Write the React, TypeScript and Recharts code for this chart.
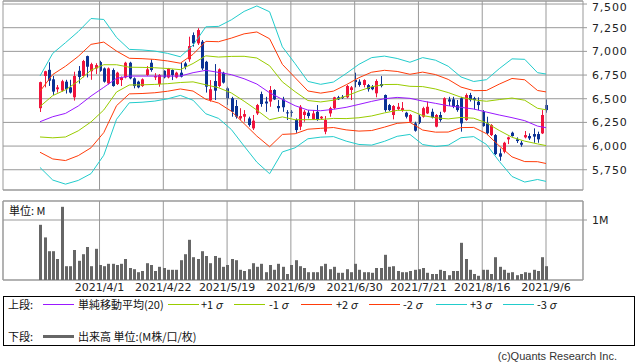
import {
  ComposedChart,
  Bar,
  Line,
  XAxis,
  YAxis,
  CartesianGrid,
  ReferenceLine,
  ReferenceArea,
} from 'recharts';

// daily candles, 2021/3/12 .. 2021/9/6 (index 0..119)
const openPrices = [
  6400, 6740, 6805, 6705, 6600, 6585, 6680, 6620, 6515, 6795, 6740, 6950, 6790, 6820, 6887, 6820, 6662, 6803, 6655, 6697,
  6725, 6880, 6715, 6680, 6634, 6750, 6880, 6725, 6655, 6795, 6725, 6803, 6725, 6775, 6873, 6916, 7172, 7085, 7102, 6890,
  6486, 6687, 6634, 6775, 6610, 6505, 6423, 6292, 6310, 6292, 6187, 6345, 6549, 6470, 6470, 6592, 6423, 6493, 6356, 6362,
  6275, 6205, 6328, 6352, 6282, 6362, 6292, 6152, 6345, 6400, 6515, 6520, 6515, 6592, 6697, 6680, 6645, 6644, 6627, 6557,
  6655, 6539, 6433, 6328, 6390, 6380, 6352, 6257, 6240, 6310, 6310, 6345, 6362, 6205, 6328, 6362, 6493, 6493, 6433, 6505,
  6275, 6539, 6505, 6468, 6362, 6240, 6116, 6116, 5923, 5940, 6071, 6141, 6071, 6035, 6092, 6106, 6127, 6127, 6134, 6433,
];
const highPrices = [
  6680, 6795, 6885, 6740, 6645, 6700, 6700, 6700, 6785, 6845, 6910, 6955, 6880, 6875, 6900, 6830, 6830, 6820, 6785, 6735,
  6890, 6890, 6725, 6690, 6715, 6845, 6915, 6770, 6760, 6800, 6825, 6810, 6785, 6880, 6890, 7155, 7200, 7245, 7120, 6900,
  6697, 6866, 6820, 6785, 6627, 6520, 6486, 6400, 6380, 6310, 6328, 6445, 6575, 6520, 6634, 6600, 6486, 6520, 6380, 6380,
  6292, 6433, 6380, 6380, 6380, 6433, 6317, 6317, 6415, 6520, 6530, 6539, 6645, 6634, 6775, 6705, 6705, 6655, 6644, 6705,
  6739, 6545, 6445, 6433, 6455, 6465, 6362, 6338, 6257, 6328, 6415, 6470, 6395, 6338, 6362, 6515, 6520, 6520, 6486, 6520,
  6556, 6562, 6520, 6515, 6380, 6310, 6232, 6127, 5975, 6045, 6100, 6152, 6092, 6056, 6159, 6134, 6187, 6152, 6380, 6493,
];
const lowPrices = [
  6360, 6620, 6635, 6540, 6565, 6575, 6555, 6555, 6480, 6660, 6725, 6725, 6700, 6760, 6785, 6670, 6650, 6627, 6645, 6634,
  6715, 6705, 6610, 6610, 6625, 6740, 6785, 6697, 6627, 6715, 6715, 6697, 6715, 6725, 6810, 6890, 7050, 7067, 6803, 6565,
  6470, 6486, 6620, 6660, 6433, 6310, 6290, 6275, 6257, 6205, 6170, 6328, 6415, 6362, 6415, 6486, 6362, 6362, 6275, 6310,
  6140, 6169, 6257, 6292, 6275, 6267, 6285, 6125, 6310, 6390, 6486, 6497, 6505, 6486, 6620, 6627, 6620, 6575, 6590, 6515,
  6620, 6362, 6370, 6282, 6380, 6362, 6292, 6247, 6152, 6232, 6300, 6338, 6292, 6198, 6257, 6352, 6423, 6400, 6362, 6152,
  6267, 6470, 6387, 6380, 6205, 6116, 6106, 5905, 5845, 5923, 6021, 6100, 6032, 5993, 6081, 6064, 6035, 6035, 6127, 6352,
];
const closePrices = [
  6675, 6790, 6690, 6575, 6620, 6685, 6600, 6565, 6740, 6730, 6898, 6838, 6865, 6855, 6795, 6680, 6820, 6634, 6775, 6725,
  6880, 6715, 6634, 6620, 6705, 6810, 6803, 6740, 6750, 6725, 6820, 6750, 6775, 6733, 6838, 7056, 7085, 7225, 6820, 6627,
  6600, 6585, 6810, 6670, 6505, 6362, 6310, 6317, 6338, 6222, 6268, 6433, 6444, 6450, 6592, 6493, 6400, 6410, 6349, 6356,
  6169, 6415, 6362, 6317, 6345, 6275, 6310, 6275, 6400, 6515, 6493, 6507, 6634, 6620, 6676, 6645, 6697, 6600, 6600, 6687,
  6634, 6380, 6380, 6423, 6415, 6400, 6310, 6328, 6162, 6247, 6400, 6415, 6303, 6328, 6275, 6505, 6470, 6415, 6380, 6240,
  6539, 6486, 6486, 6433, 6211, 6135, 6222, 5916, 5888, 6035, 6092, 6106, 6053, 6014, 6116, 6081, 6100, 6071, 6328, 6380,
];
// volume, in millions
const volumes = [
  0.92, 0.71, 0.48, 0.48, 0.35, 1.22, 0.23, 0.23, 0.5, 0.32, 0.43, 0.55, 0.23, 0.52, 0.25, 0.23, 0.27, 0.27, 0.25, 0.27,
  0.35, 0.2, 0.18, 0.13, 0.15, 0.28, 0.25, 0.15, 0.22, 0.2, 0.17, 0.17, 0.17, 0.33, 0.43, 0.67, 0.38, 0.35, 0.48, 0.4,
  0.28, 0.4, 0.37, 0.22, 0.25, 0.35, 0.33, 0.17, 0.15, 0.18, 0.28, 0.22, 0.27, 0.13, 0.25, 0.17, 0.27, 0.22, 0.1, 0.25,
  0.33, 0.23, 0.2, 0.13, 0.13, 0.13, 0.23, 0.27, 0.18, 0.22, 0.12, 0.12, 0.18, 0.13, 0.27, 0.17, 0.13, 0.13, 0.12, 0.2,
  0.2, 0.42, 0.22, 0.23, 0.15, 0.13, 0.13, 0.15, 0.17, 0.18, 0.2, 0.12, 0.1, 0.1, 0.17, 0.15, 0.08, 0.15, 0.15, 0.62,
  0.35, 0.17, 0.1, 0.07, 0.17, 0.17, 0.1, 0.38, 0.22, 0.17, 0.12, 0.13, 0.08, 0.1, 0.13, 0.12, 0.17, 0.15, 0.38, 0.23,
];

// Bollinger band readings: 20-day SMA and sigma at these candle indexes
const bandIndex = [
  0, 3, 6, 9, 12, 15, 18, 21, 24, 27, 30, 33, 36, 39, 42, 45, 48, 51, 54, 57, 60, 63, 66, 69, 72, 75, 78, 81, 84, 87,
  90, 93, 96, 99, 102, 105, 108, 111, 114, 117, 119,
];
const smaValues = [
  6257, 6310, 6345, 6423, 6528, 6620, 6715, 6739, 6739, 6739, 6739, 6739, 6775, 6800, 6778, 6754, 6711, 6655, 6563, 6493,
  6426, 6380, 6373, 6388, 6409, 6440, 6472, 6500, 6514, 6504, 6475, 6451, 6426, 6409, 6391, 6359, 6328, 6300, 6268, 6211,
  6194,
];
const sigmaValues = [
  161, 223, 249, 262, 273, 239, 144, 94, 92, 88, 80, 68, 97, 153, 162, 193, 237, 275, 285, 185, 148, 101, 93, 96, 119,
  141, 154, 150, 137, 127, 153, 152, 139, 107, 97, 114, 163, 207, 216, 188, 189,
];

const tickIndex = [14, 29, 44, 59, 74, 89, 104, 119];
const tickLabels = ['2021/4/1', '2021/4/22', '2021/5/19', '2021/6/9', '2021/6/30', '2021/7/21', '2021/8/16', '2021/9/6'];
const priceTicks = [5750, 6000, 6250, 6500, 6750, 7000, 7250, 7500];

const RED = '#f0143c';
const BLUE = '#0a3294';
const SMA_COLOR = '#9a19ff';
const SIG1 = '#99cc00';
const SIG2 = '#ff3c0a';
const SIG3 = '#22cccc';
const GRID = '#999999';
const AXIS_FONT = '"DejaVu Sans", sans-serif';
const JP_FONT = '"Noto Sans CJK JP", sans-serif';

const X_DOMAIN: [number, number] = [-8.7, 127.7];
const PRICE_DOMAIN: [number, number] = [5536, 7532];
const VOL_DOMAIN: [number, number] = [0, 1.317];

interface Row {
  i: number;
  open: number;
  high: number;
  low: number;
  close: number;
  vol: number;
  sma?: number;
  p1?: number;
  m1?: number;
  p2?: number;
  m2?: number;
  p3?: number;
  m3?: number;
}

const rows: Row[] = openPrices.map((open, i) => ({
  i,
  open,
  high: highPrices[i],
  low: lowPrices[i],
  close: closePrices[i],
  vol: volumes[i],
}));

bandIndex.forEach((idx, k) => {
  const m = smaValues[k];
  const s = sigmaValues[k];
  Object.assign(rows[idx], {
    sma: m,
    p1: m + s,
    m1: m - s,
    p2: m + 2 * s,
    m2: m - 2 * s,
    p3: m + 3 * s,
    m3: m - 3 * s,
  });
});

function Candle(props: any) {
  const { x, y, width, height, payload } = props;
  const { open, close, high, low } = payload as Row;
  const color = close >= open ? RED : BLUE;
  const h = Math.abs(height);
  const top = Math.min(y, y + height);
  const ratio = high === low ? 0 : h / (high - low);
  const bodyTop = top + (high - Math.max(open, close)) * ratio;
  const bodyH = Math.max(1, Math.abs(open - close) * ratio);
  const cx = Math.round(x + width / 2);
  return (
    <g>
      <line x1={cx + 0.5} x2={cx + 0.5} y1={top} y2={top + h} stroke={color} strokeWidth={1} />
      <rect x={cx - 1} y={bodyTop} width={3} height={bodyH} fill={color} />
    </g>
  );
}

function VolumeBar(props: any) {
  const { x, y, width, height } = props;
  const cx = Math.round(x + width / 2);
  return <rect x={cx - 1} y={y} width={3} height={Math.abs(height)} fill="#666666" />;
}

// price labels on the right; the top one is nudged so it stays inside the picture
function PriceTick(props: any) {
  const { x, y, payload } = props;
  return (
    <text
      x={x}
      y={Math.max(y, 7)}
      dy="0.355em"
      textAnchor="start"
      fontSize={11}
      fill="#222"
      fontFamily={AXIS_FONT}
      letterSpacing={0.8}
    >
      {Number(payload.value).toLocaleString('en-US')}
    </text>
  );
}

function LegendLine({ left, top, color, thick }: { left: number; top: number; color: string; thick?: boolean }) {
  const h = thick ? 3 : 1;
  return (
    <div
      style={{ position: 'absolute', left, top: top - Math.floor(h / 2), width: 31, height: h, background: color }}
    />
  );
}

function LegendText({ left, top, children }: { left: number; top: number; children: React.ReactNode }) {
  return (
    <div style={{ position: 'absolute', left, top: top - 7, lineHeight: '14px', fontSize: 11, whiteSpace: 'nowrap' }}>
      {children}
    </div>
  );
}

const sigma = (label: string) => (
  <>
    {label}
    <i style={{ marginLeft: 2 }}>σ</i>
  </>
);

const bandLines = [
  { key: 'p3', color: SIG3 },
  { key: 'm3', color: SIG3 },
  { key: 'p2', color: SIG2 },
  { key: 'm2', color: SIG2 },
  { key: 'p1', color: SIG1 },
  { key: 'm1', color: SIG1 },
  { key: 'sma', color: SMA_COLOR },
];

export default function App() {
  return (
    <div
      style={{
        position: 'absolute',
        left: 0,
        top: 0,
        width: 638,
        height: 362,
        background: '#fff',
        fontFamily: JP_FONT,
        color: '#111',
        overflow: 'hidden',
      }}
    >
      {/* price panel */}
      <div style={{ position: 'absolute', left: 0, top: 0 }}>
        <ComposedChart width={638} height={192} data={rows} margin={{ top: 1, right: 0, bottom: 2, left: 3 }}>
          <CartesianGrid vertical={false} stroke={GRID} />
          <XAxis dataKey="i" type="number" domain={X_DOMAIN} allowDataOverflow hide />
          <YAxis
            orientation="right"
            width={55}
            domain={PRICE_DOMAIN}
            allowDataOverflow
            ticks={priceTicks}
            interval={0}
            tick={<PriceTick />}
            tickSize={4}
            tickMargin={5}
            tickLine={{ stroke: GRID }}
            axisLine={false}
          />
          {tickIndex.map((t) => (
            <ReferenceLine key={t} x={t} stroke={GRID} />
          ))}
          <ReferenceArea
            x1={X_DOMAIN[0]}
            x2={X_DOMAIN[1]}
            y1={PRICE_DOMAIN[0]}
            y2={PRICE_DOMAIN[1]}
            fill="none"
            stroke={GRID}
            fillOpacity={0}
          />
          <Bar
            dataKey={(d: Row) => [d.low, d.high]}
            shape={Candle}
            barSize={3}
            isAnimationActive={false}
          />
          {bandLines.map((b) => (
            <Line
              key={b.key}
              dataKey={b.key}
              type="linear"
              stroke={b.color}
              strokeWidth={1}
              dot={false}
              activeDot={false}
              connectNulls
              isAnimationActive={false}
            />
          ))}
        </ComposedChart>
      </div>

      {/* volume panel */}
      <div style={{ position: 'absolute', left: 0, top: 195 }}>
        <ComposedChart width={638} height={100} data={rows} margin={{ top: 6, right: 0, bottom: 0, left: 3 }}>
          <CartesianGrid stroke={GRID} />
          <XAxis
            dataKey="i"
            type="number"
            domain={X_DOMAIN}
            allowDataOverflow
            ticks={tickIndex}
            interval={0}
            tickFormatter={(v) => tickLabels[tickIndex.indexOf(v)] ?? ''}
            tick={{ fontSize: 11, fill: '#222', fontFamily: AXIS_FONT }}
            tickLine={false}
            tickSize={0}
            tickMargin={3}
            axisLine={false}
            height={15}
          />
          <YAxis
            orientation="right"
            width={55}
            domain={VOL_DOMAIN}
            allowDataOverflow
            ticks={[1]}
            tickFormatter={(v) => `${v}M`}
            tick={{ fontSize: 11, fill: '#222', fontFamily: AXIS_FONT }}
            tickSize={4}
            tickMargin={5}
            tickLine={{ stroke: GRID }}
            axisLine={false}
          />
          <ReferenceArea
            x1={X_DOMAIN[0]}
            x2={X_DOMAIN[1]}
            y1={VOL_DOMAIN[0]}
            y2={VOL_DOMAIN[1]}
            fill="none"
            stroke={GRID}
            fillOpacity={0}
          />
          <Bar dataKey="vol" shape={VolumeBar} barSize={3} isAnimationActive={false} />
        </ComposedChart>
      </div>
      <div style={{ position: 'absolute', left: 9, top: 203, fontSize: 11, lineHeight: '14px' }}>単位: M</div>

      {/* legend */}
      <div
        style={{
          position: 'absolute',
          left: 3,
          top: 296,
          width: 632,
          height: 50,
          border: '1px solid #000',
          boxSizing: 'border-box',
        }}
      />
      <LegendText left={8} top={304}>上段:</LegendText>
      <LegendLine left={43} top={304} color={SMA_COLOR} />
      <LegendText left={78} top={304}>単純移動平均(20)</LegendText>
      <LegendLine left={168} top={304} color={SIG1} />
      <LegendText left={201} top={304}>{sigma('+1')}</LegendText>
      <LegendLine left={234} top={304} color={SIG1} />
      <LegendText left={269} top={304}>{sigma('-1')}</LegendText>
      <LegendLine left={301} top={304} color={SIG2} />
      <LegendText left={336} top={304}>{sigma('+2')}</LegendText>
      <LegendLine left={369} top={304} color={SIG2} />
      <LegendText left={403} top={304}>{sigma('-2')}</LegendText>
      <LegendLine left={436} top={304} color={SIG3} />
      <LegendText left={470} top={304}>{sigma('+3')}</LegendText>
      <LegendLine left={503} top={304} color={SIG3} />
      <LegendText left={537} top={304}>{sigma('-3')}</LegendText>

      <LegendText left={8} top={336}>下段:</LegendText>
      <LegendLine left={43} top={336} color="#666666" thick />
      <LegendText left={78} top={336}>出来高 単位:(M株/口/枚)</LegendText>

      <div
        style={{
          position: 'absolute',
          right: 21,
          top: 351,
          fontSize: 11,
          lineHeight: '11px',
          color: '#333',
          fontFamily: '"Liberation Sans", sans-serif',
        }}
      >
        (c)Quants Research Inc.
      </div>
    </div>
  );
}
